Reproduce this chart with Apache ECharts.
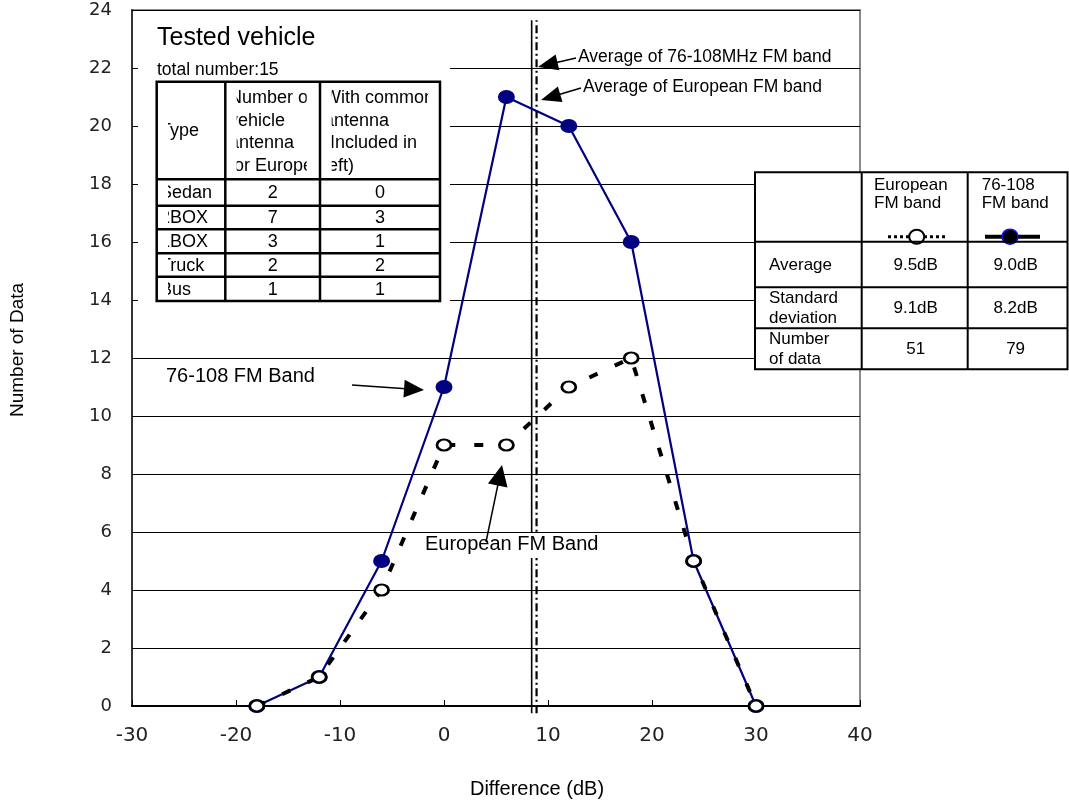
<!DOCTYPE html>
<html><head><meta charset="utf-8">
<script src="https://cdn.jsdelivr.net/npm/echarts@6/dist/echarts.min.js"></script>
<style>html,body{margin:0;padding:0;background:#fff}#c{width:1069px;height:805px}</style>
</head><body><div id="c"></div>
<script>
// ---- data ----
const diffDb = [-18, -12, -6, 0, 6, 12, 18, 24, 30];
const band76108Counts = [0, 1, 5, 11, 21, 20, 16, 5, 0];
const europeanCounts = [0, 1, 4, 9, 9, 11, 12, 5, 0];
const averageLineX = [8.43, 8.9];          // solid (76-108), dash-dot (European) as drawn
const averageLineExtent = [-0.25, 23.65];
const xTickLabels = ['-30', '-20', '-10', '0', '10', '20', '30', '40'];
const yTickLabels = ['0','2','4','6','8','10','12','14','16','18','20','22','24'];

const vehicleTypes = ['Sedan', '2BOX', '1BOX', 'Truck', 'Bus'];
const vehicleEuropeAntenna = [2, 7, 3, 2, 1];
const vehicleCommonAntenna = [0, 3, 1, 2, 1];
const vehicleTotal = 15;

const statsRowLabels = ['Average', 'Standard\ndeviation', 'Number\nof data'];
const statsEuropean = ['9.5dB', '9.1dB', '51'];
const stats76108 = ['9.0dB', '8.2dB', '79'];

// ---- build ----
const F = '"Liberation Sans", Arial, sans-serif';
const TF = '"DejaVu Sans", sans-serif';
const G = [];
function T(x, y, s, size, align, valign, extra) {
  const st = {text: s, fill: '#000', fontSize: size, fontFamily: F,
              align: align || 'left', verticalAlign: valign || 'middle'};
  if (extra && extra.lineHeight) st.lineHeight = extra.lineHeight;
  const el = {type: 'text', x: x, y: y, z: (extra && extra.z) || 60, style: st, silent: true};
  if (extra && extra.rotation) el.rotation = extra.rotation;
  return el;
}
function L(x1, y1, x2, y2, w, color, z, dash) {
  return {type: 'line', z: z || 62, silent: true, shape: {x1, y1, x2, y2},
          style: {stroke: color || '#000', lineWidth: w, lineDash: dash || null}};
}
function R(x, y, w, h, fill, z) {
  return {type: 'rect', z: z || 50, silent: true, shape: {x, y, width: w, height: h}, style: {fill: fill}};
}
function RS(x, y, w, h, lw, z) {
  return {type: 'rect', z: z || 63, silent: true, shape: {x, y, width: w, height: h},
          style: {fill: 'none', stroke: '#000', lineWidth: lw}};
}
function arrow(x1, y1, x2, y2, len, hw, lw) {
  const dx = x2 - x1, dy = y2 - y1, d = Math.sqrt(dx * dx + dy * dy);
  const ux = dx / d, uy = dy / d;
  const bx = x2 - ux * len, by = y2 - uy * len;
  const nx = -uy, ny = ux;
  G.push(L(x1, y1, bx + ux * 2, by + uy * 2, lw || 1.5, '#000', 58));
  G.push({type: 'polygon', z: 58, silent: true,
          shape: {points: [[x2, y2], [bx + nx * hw, by + ny * hw], [bx - nx * hw, by - ny * hw]]},
          style: {fill: '#000'}});
}

// left text box (Tested vehicle)
G.push(R(138, 12, 312, 298, '#fff', 50));
G.push(T(157, 38, 'Tested vehicle', 25));
G.push(T(157, 70, 'total number:' + vehicleTotal, 17.5));
const lc = [156.7, 225.3, 320, 440];
const lr = [81.7, 179.3, 205.7, 229.3, 253.3, 276.7, 301];
G.push(T(160, 131, 'Type', 18));
G.push(T(229, 132, 'Number of\nvehicle\nantenna\nfor Europe', 18, 'left', 'middle', {lineHeight: 22.4}));
G.push(T(324, 132, 'With common\nantenna\n(Included in\nleft)', 18, 'left', 'middle', {lineHeight: 22.4}));
vehicleTypes.forEach(function (t, i) {
  const cy = (lr[i + 1] + lr[i + 2]) / 2 + 0.8;
  G.push(T(160, cy, t, 18));
  G.push(T((lc[1] + lc[2]) / 2, cy, String(vehicleEuropeAntenna[i]), 18, 'center'));
  G.push(T((lc[2] + lc[3]) / 2, cy, String(vehicleCommonAntenna[i]), 18, 'center'));
});
// cell clipping masks
G.push(R(158, 83, 10, 217, '#fff', 61));
G.push(R(226.5, 83, 10.2, 95, '#fff', 61));
G.push(R(306.7, 83, 12.3, 95, '#fff', 61));
G.push(R(321.3, 83, 10.4, 95, '#fff', 61));
G.push(R(428.3, 83, 10.5, 95, '#fff', 61));
// borders
G.push(RS(lc[0], lr[0], lc[3] - lc[0], lr[6] - lr[0], 2.5));
G.push(L(lc[1], lr[0], lc[1], lr[6], 2.5, '#000', 63));
G.push(L(lc[2], lr[0], lc[2], lr[6], 2.5, '#000', 63));
for (let i = 1; i < 6; i++) G.push(L(lc[0], lr[i], lc[3], lr[i], 2.5, '#000', 63));

// right stats table
const rc = [755, 861.7, 967.7, 1067.5];
const rr = [172.3, 241.7, 287.3, 328.3, 369.3];
G.push(R(rc[0], rr[0], rc[3] - rc[0], rr[4] - rr[0], '#fff', 50));
G.push(T(874, 194, 'European\nFM band', 17, 'left', 'middle', {lineHeight: 18}));
G.push(T(981.7, 194, '76-108\nFM band', 17, 'left', 'middle', {lineHeight: 18}));
G.push(L(888, 236.7, 945, 236.7, 3, '#000', 60, [3, 3]));
G.push({type: 'ellipse', z: 61, silent: true, shape: {cx: 916.7, cy: 236.7, rx: 7.5, ry: 7},
        style: {fill: '#fff', stroke: '#000', lineWidth: 2}});
G.push(L(985, 236.7, 1040, 236.7, 4, '#000', 60));
G.push({type: 'ellipse', z: 61, silent: true, shape: {cx: 1010, cy: 236.7, rx: 8, ry: 7.5},
        style: {fill: '#000', stroke: '#1010ff', lineWidth: 1.5}});
statsRowLabels.forEach(function (t, i) {
  const cy = (rr[i + 1] + rr[i + 2]) / 2;
  G.push(T(769, cy + 1, t, 17, 'left', 'middle', {lineHeight: 20}));
  G.push(T((rc[1] + rc[2]) / 2 + 1, cy + 1, statsEuropean[i], 17, 'center'));
  G.push(T((rc[2] + rc[3]) / 2 - 2, cy + 1, stats76108[i], 17, 'center'));
});
G.push(RS(rc[0], rr[0], rc[3] - rc[0], rr[4] - rr[0], 2));
G.push(L(rc[1], rr[0], rc[1], rr[4], 2, '#000', 63));
G.push(L(rc[2], rr[0], rc[2], rr[4], 2, '#000', 63));
for (let i = 1; i < 4; i++) G.push(L(rc[0], rr[i], rc[3], rr[i], 2, '#000', 63));

// annotations
G.push(T(578, 57, 'Average of 76-108MHz FM band', 17.5));
arrow(576, 58, 538, 67, 20, 8);
G.push(T(583, 87, 'Average of European FM band', 17.5));
arrow(581, 88, 541, 100, 20, 8);
G.push(T(166, 376, '76-108 FM Band', 20));
arrow(352, 385, 424, 390, 20, 9);
G.push(R(421, 533, 181, 25, '#fff', 55));
G.push(T(425, 544, 'European FM Band', 20));
arrow(486, 542, 502, 465, 21, 10);

// axis titles
G.push(T(18, 350, 'Number of Data', 19, 'center', 'middle', {rotation: Math.PI / 2}));
G.push(T(537, 789, 'Difference (dB)', 20, 'center', 'middle'));

const chart = echarts.init(document.getElementById('c'), null, {renderer: 'canvas'});
chart.setOption({
  animation: false,
  backgroundColor: '#fff',
  grid: {left: 132, right: 209, top: 10, bottom: 99, containLabel: false, outerBoundsMode: 'none',
         show: true, borderColor: '#8a8a8a', borderWidth: 2, backgroundColor: '#fff'},
  xAxis: {
    type: 'value', min: -30, max: 40, interval: 10,
    axisLine: {show: true, onZero: false, lineStyle: {color: '#000', width: 2}},
    axisTick: {show: true, inside: true, length: 6, lineStyle: {color: '#000', width: 1}},
    splitLine: {show: false},
    axisLabel: {margin: 20, fontSize: 20, fontFamily: TF, color: '#222',
                formatter: function (v) { return xTickLabels[Math.round((v + 30) / 10)]; }}
  },
  yAxis: {
    type: 'value', min: 0, max: 24, interval: 2,
    axisLine: {show: true, onZero: false, lineStyle: {color: '#333', width: 2}},
    axisTick: {show: true, inside: true, length: 5, lineStyle: {color: '#000', width: 1}},
    splitLine: {show: true, lineStyle: {color: '#000', width: 1}},
    axisLabel: {margin: 20, fontSize: 18, fontFamily: TF, color: '#222',
                formatter: function (v) { return yTickLabels[Math.round(v / 2)]; }}
  },
  graphic: {elements: G},
  series: [
    {type: 'line', data: [[averageLineX[0], averageLineExtent[0]], [averageLineX[0], averageLineExtent[1]]],
     symbol: 'none', clip: false, z: 1, silent: true,
     lineStyle: {color: '#000', width: 1.6}},
    {type: 'line', data: [[averageLineX[1], averageLineExtent[0]], [averageLineX[1], averageLineExtent[1]]],
     symbol: 'none', clip: false, z: 1, silent: true,
     lineStyle: {color: '#000', width: 2.2, type: [8, 3.5, 2, 3.5]}},
    {type: 'line', name: '76-108 FM band', data: diffDb.map(function (x, i) { return [x, band76108Counts[i]]; }),
     symbol: 'circle', symbolSize: [17, 14], clip: false, z: 3, silent: true,
     lineStyle: {color: '#000080', width: 2.2},
     itemStyle: {color: '#000080', borderWidth: 0}},
    {type: 'line', name: 'European FM band', data: diffDb.map(function (x, i) { return [x, europeanCounts[i]]; }),
     symbol: 'circle', symbolSize: [14, 11], clip: false, z: 4, silent: true,
     lineStyle: {color: '#000', width: 4, type: [9, 19], cap: 'butt'},
     itemStyle: {color: '#fff', borderColor: '#000', borderWidth: 2.5}}
  ]
});
</script>
</body></html>
